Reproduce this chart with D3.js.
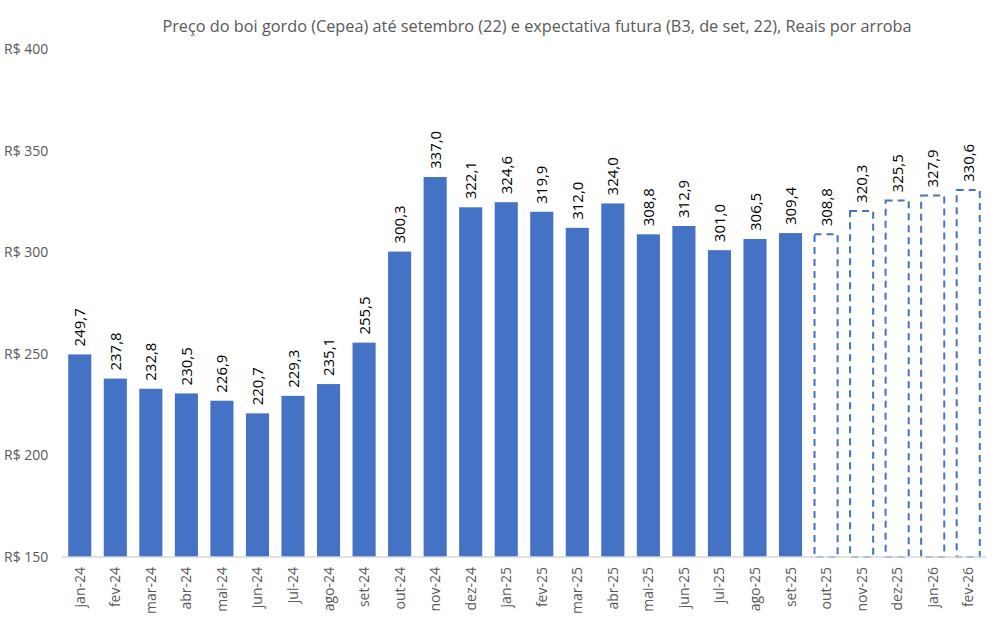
<!DOCTYPE html>
<html>
<head>
<meta charset="utf-8">
<script src="https://cdn.jsdelivr.net/npm/d3@7"></script>
<style>
  body { margin: 0; background: #fff; }
  text { font-family: "Open Sans", "Noto Sans", sans-serif; }
</style>
</head>
<body>
<div id="chart"></div>
<script>
const months = ["jan-24","fev-24","mar-24","abr-24","mai-24","jun-24","jul-24","ago-24","set-24","out-24","nov-24","dez-24",
  "jan-25","fev-25","mar-25","abr-25","mai-25","jun-25","jul-25","ago-25","set-25","out-25","nov-25","dez-25","jan-26","fev-26"];
const prices = [249.7,237.8,232.8,230.5,226.9,220.7,229.3,235.1,255.5,300.3,337.0,322.1,
  324.6,319.9,312.0,324.0,308.8,312.9,301.0,306.5,309.4,308.8,320.3,325.5,327.9,330.6];
// first 21 are Cepea observed, the rest are B3 futures
const isFuture = months.map((m, i) => i >= 21);
const yTicks = [150, 200, 250, 300, 350, 400];
const title = "Preço do boi gordo (Cepea) até setembro (22) e expectativa futura (B3, de set, 22), Reais por arroba";

const W = 1006, H = 629;
const margin = { top: 49, right: 20, bottom: 72, left: 62 };

const svg = d3.select("#chart").append("svg")
  .attr("width", W).attr("height", H);

const x = d3.scaleBand().domain(months)
  .range([margin.left, W - margin.right])
  .paddingInner(0.35).paddingOuter(0.175);
const y = d3.scaleLinear().domain([150, 400])
  .range([H - margin.bottom, margin.top]);

svg.append("text")
  .attr("x", 537).attr("y", 32)
  .attr("text-anchor", "middle")
  .style("font-size", "16.3px").attr("fill", "#595959")
  .text(title);

// y labels (no gridlines)
svg.selectAll(".ylab").data(yTicks).enter().append("text")
  .attr("x", 4).attr("y", d => y(d) + 5)
  .style("font-size", "14px").attr("fill", "#595959")
  .text(d => "R$ " + d);

const data = months.map((m, i) => ({ m, v: prices[i], f: isFuture[i] }));

svg.selectAll(".bar").data(data.filter(d => !d.f)).enter().append("rect")
  .attr("x", d => x(d.m)).attr("width", x.bandwidth())
  .attr("y", d => y(d.v)).attr("height", d => y(150) - y(d.v))
  .attr("fill", "#4472C4");

svg.selectAll(".fbar").data(data.filter(d => d.f)).enter().append("rect")
  .attr("x", d => x(d.m)).attr("width", x.bandwidth())
  .attr("y", d => y(d.v)).attr("height", d => y(150) - y(d.v))
  .attr("fill", "#fff").attr("stroke", "#4472C4")
  .attr("stroke-width", 2).attr("stroke-dasharray", "7,5");

// x axis line
svg.append("line")
  .attr("x1", margin.left).attr("x2", W - margin.right)
  .attr("y1", y(150)).attr("y2", y(150))
  .attr("stroke", "#d9d9d9").attr("stroke-width", 1.5);

// month labels
svg.selectAll(".xlab").data(months).enter().append("text")
  .attr("transform", d => `translate(${x(d) + x.bandwidth() / 2 + 5},${y(150) + 10}) rotate(-90)`)
  .attr("text-anchor", "end")
  .style("font-size", "14px").attr("fill", "#595959")
  .text(d => d);

// value labels
svg.selectAll(".vlab").data(data).enter().append("text")
  .attr("transform", d => `translate(${x(d.m) + x.bandwidth() / 2 + 5.5},${y(d.v) - 8}) rotate(-90)`)
  .attr("text-anchor", "start")
  .style("font-size", "15px").attr("fill", "#000")
  .text(d => d3.format(".1f")(d.v).replace(".", ","));
</script>
</body>
</html>
